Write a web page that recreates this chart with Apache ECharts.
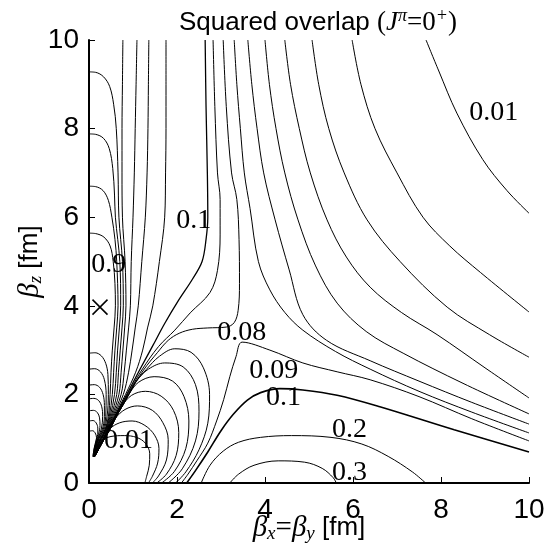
<!DOCTYPE html>
<html>
<head>
<meta charset="utf-8">
<script src="https://cdn.jsdelivr.net/npm/echarts/dist/echarts.min.js"></script>
<style>
  html, body { margin: 0; padding: 0; background: #fff; }
  #main { width: 560px; height: 555px; }
</style>
</head>
<body>
<div id="main"></div>
<script>
// contours that start on the left edge below the peak and fall into the ridge
const leftArcs = [
  [[0,1.17],[0.08,1.18],[0.14,1.13],[0.17,1.03],[0.16,0.92],[0.12,0.78],[0.09,0.6]],
  [[0,1.40],[0.09,1.41],[0.16,1.36],[0.2,1.24],[0.2,1.1],[0.17,1.0],[0.12,0.8],[0.09,0.6]],
  [[0,1.63],[0.1,1.64],[0.19,1.59],[0.24,1.47],[0.25,1.3],[0.24,1.2],[0.19,1.0],[0.13,0.8],[0.1,0.6]],
  [[0,1.90],[0.11,1.91],[0.22,1.86],[0.29,1.72],[0.31,1.5],[0.28,1.22],[0.2,1.0],[0.14,0.8],[0.1,0.6]],
  [[0,2.21],[0.12,2.22],[0.24,2.16],[0.32,2.0],[0.35,1.75],[0.35,1.5],[0.3,1.2],[0.21,1.0],[0.15,0.8],[0.1,0.6]],
  [[0,2.57],[0.13,2.58],[0.26,2.51],[0.35,2.33],[0.39,2.0],[0.38,1.5],[0.32,1.2],[0.22,1.0],[0.15,0.8],[0.1,0.6]],
  [[0,2.93],[0.14,2.94],[0.28,2.87],[0.38,2.7],[0.43,2.45],[0.44,2.0],[0.41,1.5],[0.34,1.2],[0.23,1.0],[0.16,0.8],[0.1,0.6]]
];

// contours that start on the left edge above the peak (0.9 is the first)
const upperArcs = [
  [[0,5.64],[0.15,5.63],[0.34,5.55],[0.48,5.35],[0.55,5.0],[0.59,4.5],[0.6,4.0],[0.57,3.5],[0.53,3.0],[0.5,2.5],[0.48,2.0],[0.44,1.5],[0.36,1.2],[0.25,1.0],[0.17,0.8],[0.11,0.6]],
  [[0,6.70],[0.15,6.69],[0.32,6.6],[0.44,6.38],[0.52,6.0],[0.59,5.5],[0.63,5.0],[0.66,4.0],[0.63,3.5],[0.59,3.0],[0.56,2.5],[0.53,2.0],[0.46,1.5],[0.37,1.2],[0.26,1.0],[0.17,0.8],[0.11,0.6]],
  [[0,7.88],[0.15,7.87],[0.33,7.78],[0.46,7.55],[0.54,7.1],[0.58,6.5],[0.6,6.0],[0.7,5.0],[0.72,4.0],[0.69,3.5],[0.65,3.0],[0.62,2.5],[0.58,2.0],[0.48,1.5],[0.38,1.2],[0.27,1.0],[0.18,0.8],[0.11,0.6]],
  [[0,9.28],[0.15,9.27],[0.33,9.17],[0.47,8.95],[0.56,8.55],[0.62,8.0],[0.66,7.0],[0.68,6.0],[0.76,5.0],[0.78,4.0],[0.75,3.5],[0.71,3.0],[0.67,2.5],[0.63,2.0],[0.5,1.5],[0.39,1.2],[0.28,1.0],[0.19,0.8],[0.11,0.6]]
];

// near-vertical contours from the top edge, left of the ridge
const topLines = [
  [[0.77,10],[0.76,9],[0.75,8],[0.75,7],[0.76,6],[0.82,5.0],[0.84,4.0],[0.81,3.5],[0.77,3.0],[0.73,2.5],[0.68,2.0],[0.52,1.5],[0.4,1.2],[0.29,1.0],[0.19,0.8],[0.12,0.6]],
  [[1.09,10],[1.07,9],[1.05,8],[1.03,7],[1.0,6],[0.96,5.0],[0.94,4.0],[0.9,3.5],[0.85,3.0],[0.8,2.5],[0.73,2.0],[0.54,1.5],[0.41,1.2],[0.31,1.0],[0.2,0.8],[0.12,0.6]],
  [[1.36,10],[1.35,9],[1.34,8],[1.32,7],[1.28,6],[1.2,5.0],[1.12,4.0],[1.05,3.5],[0.98,3.0],[0.9,2.5],[0.78,2.0],[0.56,1.5],[0.42,1.2],[0.32,1.0],[0.21,0.8],[0.12,0.6]],
  [[1.75,10],[1.75,9],[1.75,8],[1.74,7],[1.72,6],[1.6,5.0],[1.45,4.0],[1.33,3.5],[1.22,3.0],[1.06,2.5],[0.83,2.0],[0.58,1.5],[0.43,1.2],[0.33,1.0],[0.22,0.8],[0.12,0.6]]
];

// contours from the top that bend into the ridge: 0.1, next, 0.08
const ridge010 = [[2.64,10],[2.66,8.5],[2.69,7],[2.7,6],[2.66,5.5],[2.57,5.0],[2.35,4.6],[2.02,4.1],[1.72,3.6],[1.45,3.1],[1.15,2.55],[0.87,2.02],[0.6,1.52],[0.44,1.22],[0.34,1.02],[0.22,0.81],[0.12,0.6]];
const ridgeMid = [[2.82,10],[2.86,8.5],[2.92,7],[2.98,6.4],[2.98,5.6],[2.92,4.8],[2.75,4.3],[2.3,3.84],[1.95,3.45],[1.58,3.08],[1.2,2.55],[0.89,2.02],[0.61,1.52],[0.45,1.22],[0.35,1.02],[0.23,0.81],[0.12,0.6]];
const ridge008 = [[3.05,10],[3.12,8.5],[3.24,7],[3.36,6.4],[3.41,5.5],[3.42,4.5],[3.39,3.9],[3.3,3.62],[3.12,3.52],[2.7,3.5],[2.35,3.47],[2.05,3.38],[1.8,3.22],[1.56,2.95],[1.24,2.55],[0.91,2.02],[0.62,1.52],[0.46,1.22],[0.35,1.02],[0.23,0.81],[0.12,0.6]];

// nested loops between the ridge and the bottom edge (0.01 innermost)
const loops = [
  [[0.13,0.6],[0.24,0.8],[0.33,0.97],[0.5,1.05],[0.8,1.07],[1.08,1.03],[1.28,0.9],[1.38,0.66],[1.37,0.4],[1.31,0.15],[1.27,0]],
  [[0.13,0.6],[0.24,0.8],[0.36,1.02],[0.47,1.22],[0.7,1.36],[0.98,1.4],[1.27,1.3],[1.49,1.08],[1.59,0.78],[1.56,0.45],[1.44,0.15],[1.35,0]],
  [[0.13,0.6],[0.24,0.8],[0.36,1.02],[0.48,1.22],[0.6,1.46],[0.82,1.66],[1.1,1.74],[1.44,1.64],[1.68,1.36],[1.8,0.98],[1.76,0.52],[1.58,0.16],[1.44,0]],
  [[0.13,0.6],[0.24,0.8],[0.36,1.02],[0.48,1.22],[0.62,1.5],[0.75,1.74],[0.97,1.98],[1.28,2.07],[1.64,1.96],[1.92,1.64],[2.04,1.14],[1.98,0.62],[1.76,0.2],[1.54,0]],
  [[0.13,0.6],[0.24,0.8],[0.36,1.02],[0.48,1.22],[0.62,1.5],[0.76,1.74],[0.9,1.99],[1.12,2.27],[1.48,2.4],[1.9,2.3],[2.16,1.95],[2.27,1.4],[2.2,0.78],[1.94,0.26],[1.65,0]],
  [[0.13,0.6],[0.24,0.8],[0.36,1.02],[0.48,1.22],[0.62,1.5],[0.76,1.74],[0.9,1.99],[1.08,2.3],[1.35,2.57],[1.72,2.71],[2.14,2.62],[2.42,2.22],[2.5,1.62],[2.42,0.95],[2.12,0.32],[1.8,0]],
  [[0.13,0.6],[0.24,0.8],[0.36,1.02],[0.48,1.22],[0.62,1.5],[0.76,1.74],[0.9,1.99],[1.05,2.27],[1.3,2.56],[1.6,2.86],[1.95,3.03],[2.32,2.95],[2.6,2.6],[2.74,2.0],[2.7,1.35],[2.5,0.75],[2.2,0.25],[1.97,0]]
];

// saddle contours, bottom edge to right edge
const c009 = [[2.1,0],[2.25,0.2],[2.45,0.5],[2.7,0.9],[2.9,1.4],[3.06,1.88],[3.2,2.4],[3.34,2.85],[3.48,3.18],[4.11,3.0],[4.86,2.71],[5.64,2.51],[6.39,2.33],[7.5,1.95],[8.7,1.45],[10,0.95]];
const c010 = [[2.22,0],[2.42,0.28],[2.7,0.7],[3.0,1.18],[3.28,1.55],[3.6,1.87],[3.9,2.04],[4.34,2.13],[4.86,2.1],[5.64,1.98],[6.61,1.72],[8.3,1.2],[10,0.70]];

// contours from the top edge that bend out to the right edge
const rightLines = [
  [[3.3,10],[3.36,9],[3.44,8],[3.53,7],[3.66,6.2],[3.85,5.0],[4.11,4.36],[4.45,3.85],[4.86,3.45],[5.6,2.97],[6.39,2.57],[7.5,2.07],[8.7,1.6],[10,1.13]],
  [[3.61,10],[3.7,9],[3.82,8],[3.97,7],[4.23,5.94],[4.55,4.81],[4.86,3.8],[5.4,3.22],[6.39,2.76],[7.5,2.3],[8.7,1.82],[10,1.33]],
  [[4.0,10],[4.1,9],[4.25,8],[4.45,7],[4.75,5.94],[5.15,4.9],[5.64,4.06],[6.3,3.42],[7.14,2.93],[8.5,2.25],[10,1.56]],
  [[4.45,10],[4.58,9],[4.78,8],[5.03,7],[5.41,5.94],[5.85,5.1],[6.39,4.42],[7.1,3.85],[7.91,3.35],[9.0,2.6],[10,1.92]],
  [[5.07,10],[5.22,9],[5.45,8],[5.8,7],[6.32,5.94],[7.07,5.0],[8.14,3.97],[9.1,3.35],[10,2.84]],
  [[5.98,10],[6.18,9],[6.5,8],[7.0,7],[7.59,6.0],[8.2,5.35],[8.9,4.75],[10,3.86]],
  [[7.66,10],[7.95,9.3],[8.36,8.35],[8.95,7.3],[9.5,6.6],[10,6.09]]
];

// closed bumps on the bottom edge
const c020 = [[2.55,0],[2.75,0.4],[3.05,0.72],[3.4,0.92],[3.9,1.03],[4.6,1.07],[5.5,1.03],[6.2,0.88],[6.8,0.6],[7.35,0.25],[7.65,0]];
const c030 = [[3.2,0],[3.4,0.2],[3.75,0.4],[4.3,0.5],[4.9,0.47],[5.3,0.33],[5.55,0.12],[5.62,0]];

// contour labels and where they sit
const labelText = ['0.01', '0.1', '0.9', '0.08', '0.09', '0.1', '0.2', '0.3', '0.01'];
const labelAt = [[9.2,8.36],[2.38,5.92],[0.45,4.93],[3.47,3.39],[4.2,2.54],[4.42,1.92],[5.92,1.2],[5.92,0.23],[0.9,0.96]];

// maximum of the overlap
const peak = [[0.25,3.97]];

var myChart = echarts.init(document.getElementById('main'));

var thin = { color: '#000', width: 1 };
var series = [];
function addLines(list, style) {
  for (var i = 0; i < list.length; i++) {
    series.push({
      type: 'line', data: list[i], smooth: 0.35, showSymbol: false, silent: true,
      lineStyle: style || thin, z: 2
    });
  }
}
addLines(leftArcs);
addLines(upperArcs);
addLines(topLines);
addLines([ridge010], { color: '#000', width: 1.3 });
addLines([ridgeMid, ridge008]);
addLines(loops);
addLines([c009]);
addLines([c010], { color: '#000', width: 1.6 });
addLines(rightLines);
addLines([c020, c030]);

var labelData = [];
for (var i = 0; i < labelText.length; i++) {
  labelData.push({ name: labelText[i], value: labelAt[i] });
}
series.push({
  type: 'scatter', data: labelData, symbolSize: 0, silent: true, z: 5,
  itemStyle: { opacity: 1 },
  label: {
    show: true, position: 'inside', formatter: '{b}',
    color: '#000', fontSize: 28, fontFamily: 'Liberation Serif',
    fontWeight: 'normal', textBorderWidth: 0, opacity: 1
  }
});
series.push({
  type: 'scatter', data: peak, silent: true, z: 5,
  symbol: 'path://M0,0L10,10M10,0L0,10', symbolSize: 15,
  itemStyle: { color: 'none', borderColor: '#000', borderWidth: 1.5, opacity: 1 }
});

var axisCommon = {
  type: 'value', min: 0, max: 10, interval: 2,
  axisLine: { show: true, lineStyle: { color: '#000', width: 2 } },
  axisTick: { inside: true, length: 6, lineStyle: { color: '#000', width: 1 } },
  splitLine: { show: false },
  nameLocation: 'middle',
  nameMoveOverlap: false
};

var option = {
  animation: false,
  backgroundColor: '#fff',
  title: {
    text: '{s|Squared overlap }{p|(}{j|J}{sup|π}{p|=0}{sup|+}{p|)}',
    left: 174, top: 2,
    textStyle: {
      fontWeight: 'normal',
      rich: {
        s: { fontFamily: 'Liberation Sans', fontWeight: 'normal', fontSize: 26, color: '#000', lineHeight: 32 },
        p: { fontFamily: 'Liberation Serif', fontWeight: 'normal', fontSize: 27, color: '#000', lineHeight: 32 },
        j: { fontFamily: 'Liberation Serif', fontStyle: 'italic', fontWeight: 'normal', fontSize: 27, color: '#000', lineHeight: 32 },
        sup: { fontFamily: 'Liberation Serif', fontStyle: 'italic', fontWeight: 'normal', fontSize: 18, color: '#000', verticalAlign: 'top', lineHeight: 32 }
      }
    }
  },
  grid: { left: 89, right: 31, top: 40, bottom: 72, outerBoundsMode: 'none', containLabel: false },
  xAxis: Object.assign({}, axisCommon, {
    axisLabel: { color: '#000', fontSize: 28, fontFamily: 'Liberation Sans', margin: 13 },
    name: '{b|β}{s|x}{e|=}{b|β}{s|y}{t| [fm]}',
    nameGap: 30,
    nameTextStyle: {
      rich: {
        b: { fontFamily: 'Liberation Serif', fontStyle: 'italic', fontSize: 29, color: '#000', lineHeight: 30 },
        s: { fontFamily: 'Liberation Serif', fontStyle: 'italic', fontSize: 19, color: '#000', verticalAlign: 'bottom', lineHeight: 30 },
        e: { fontFamily: 'Liberation Serif', fontSize: 29, color: '#000', lineHeight: 30 },
        t: { fontFamily: 'Liberation Sans', fontSize: 26, color: '#000', lineHeight: 30 }
      }
    }
  }),
  yAxis: Object.assign({}, axisCommon, {
    axisLabel: { color: '#000', fontSize: 28, fontFamily: 'Liberation Sans', margin: 10 },
    name: '{b|β}{s|z}{t| [fm]}',
    nameGap: 44,
    nameTextStyle: {
      rich: {
        b: { fontFamily: 'Liberation Serif', fontStyle: 'italic', fontSize: 29, color: '#000', lineHeight: 30 },
        s: { fontFamily: 'Liberation Serif', fontStyle: 'italic', fontSize: 19, color: '#000', verticalAlign: 'bottom', lineHeight: 30 },
        t: { fontFamily: 'Liberation Sans', fontSize: 26, color: '#000', lineHeight: 30 }
      }
    }
  }),
  series: series
};

myChart.setOption(option);
</script>
</body>
</html>
